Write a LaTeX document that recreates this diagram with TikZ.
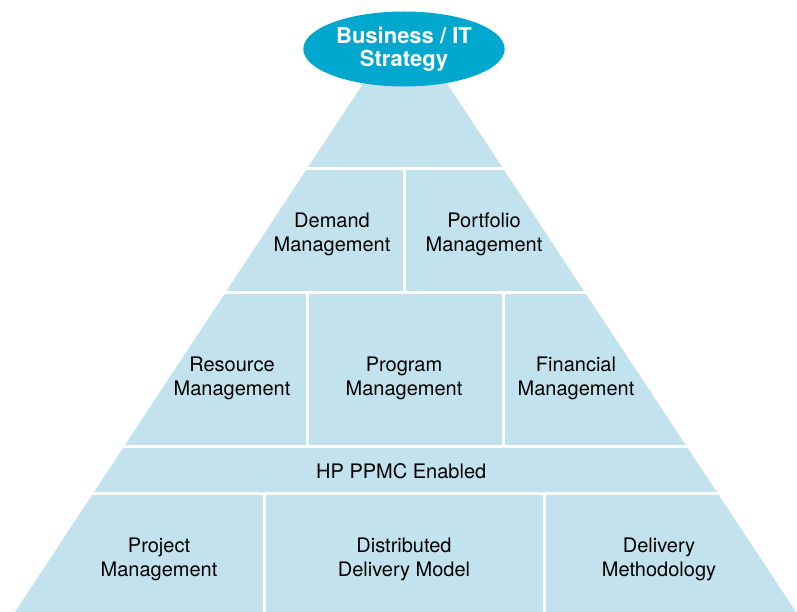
\documentclass[tikz,border=0pt]{standalone}
\usepackage{fontspec}
\setmainfont{TeX Gyre Heros}
\usetikzlibrary{positioning,shapes.geometric}

\definecolor{tierblue}{HTML}{C2E2EE}
\definecolor{topblue}{HTML}{00A8CF}

\begin{document}
\begin{tikzpicture}[
  x=1pt, y=-1pt,
  node distance=4mm,
  cell/.style={align=center, font=\fontsize{20}{23.5}\selectfont, text=black},
  gap/.style={draw=white, line width=3pt}
]
  \useasboundingbox (0,0) rectangle (797,612);

  \fill[tierblue] (405,20) -- (796,612) -- (15,612) -- cycle;

  \draw[gap] (200,168.5) -- (610,168.5);
  \draw[gap] (100,292.5) -- (710,292.5);
  \draw[gap] (0,446) -- (797,446);
  \draw[gap] (0,493) -- (797,493);
  \draw[gap] (404,168.5) -- (404,292.5);
  \draw[gap] (307,292.5) -- (307,446);
  \draw[gap] (503,292.5) -- (503,446);
  \draw[gap] (264,493) -- (264,612);
  \draw[gap] (544,493) -- (544,612);

  \node (strategy) [ellipse, fill=topblue, minimum width=197pt, minimum height=75pt,
    align=center, text=white, font=\bfseries\fontsize{22}{23}\selectfont] at (404,49) { Business / IT\\Strategy };

  \node (demand) [cell] at (332,234.5) { Demand\\Management };
  \node (portfolio) [cell] at (484,234.5) { Portfolio\\Management };

  \node (resource) [cell] at (232,378.5) { Resource\\Management };
  \node (program) [cell] at (404,378.5) { Program\\Management };
  \node (financial) [cell] at (576,378.5) { Financial\\Management };

  \node (ppmc) [cell] at (404,471) { HP PPMC Enabled };

  \node (project) [cell] at (159,559.5) { Project\\Management };
  \node (distributed) [cell] at (404,559.5) { Distributed\\Delivery Model };
  \node (delivery) [cell] at (659,559.5) { Delivery\\Methodology };
\end{tikzpicture}
\end{document}
